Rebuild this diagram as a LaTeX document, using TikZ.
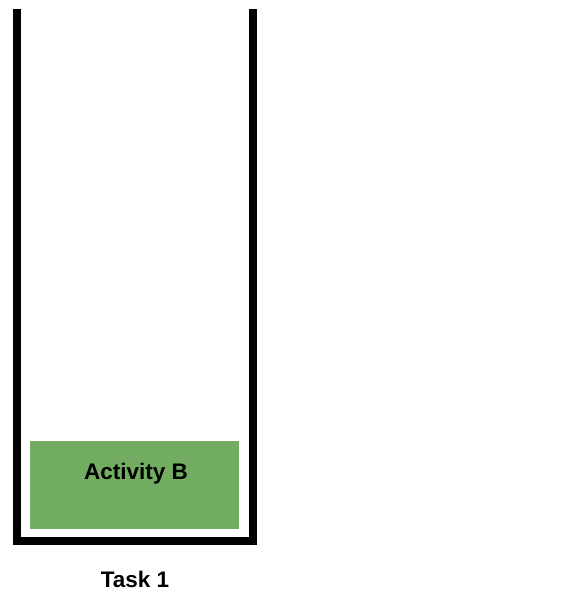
\documentclass[tikz,border=0pt]{standalone}
\usepackage{fontspec}
\setmainfont{Liberation Sans}
\definecolor{actgreen}{HTML}{72AD61}
\begin{document}
\begin{tikzpicture}[x=1pt,y=-1pt,
  wall/.style={line width=8pt, line join=miter, line cap=butt},
  actbox/.style={draw=none, fill=actgreen, minimum width=209pt, minimum height=88pt, inner sep=0pt},
  lbl/.style={font=\fontsize{22.5pt}{27pt}\selectfont\bfseries, inner sep=0pt, anchor=base}]
\useasboundingbox (0,0) rectangle (568,606);
\coordinate (tl) at (17,9);
\coordinate (bl) at (17,541);
\coordinate (br) at (253,541);
\coordinate (tr) at (253,9);
\draw[wall] (tl) -- (bl) -- (br) -- (tr);
\node[actbox] (actB) at (134.5,485) {};
\node[lbl] (actBtext) at (136,479) {Activity B};
\node[lbl] (task) at (135,587) {Task 1};
\end{tikzpicture}
\end{document}
